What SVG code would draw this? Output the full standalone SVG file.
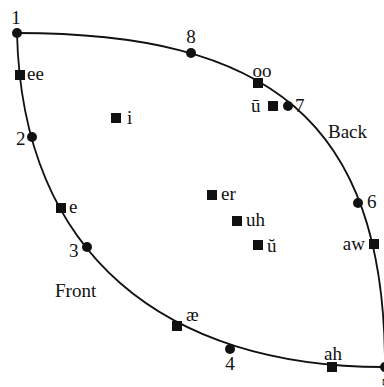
<svg xmlns="http://www.w3.org/2000/svg" width="384" height="387" viewBox="0 0 384 387">
<style>
text{font-family:"Liberation Serif","Times New Roman",serif;font-size:19px;fill:#111}
.c{fill:#111}
.s{fill:#111}
.m{text-anchor:middle}
.e{text-anchor:end}
.curve{fill:none;stroke:#111;stroke-width:1.8}
</style>
<rect width="384" height="387" fill="#fff"/>
<g id="connectors">
<path class="curve" d="M17,33 C265,33 385,117 385,367"/>
<path class="curve" d="M17,33 C22,255 165,367 385,367"/>
</g>
<g id="p1"><circle class="c" cx="17" cy="33" r="5"/><text class="m" x="16" y="24">1</text></g>
<g id="ee"><rect class="s" x="15" y="70" width="10" height="10"/><text x="27" y="80">ee</text></g>
<g id="p2"><circle class="c" cx="32" cy="137" r="5"/><text x="16" y="145">2</text></g>
<g id="e"><rect class="s" x="56" y="203" width="10" height="10"/><text x="69" y="213">e</text></g>
<g id="p3"><circle class="c" cx="87" cy="247" r="5"/><text x="69" y="257">3</text></g>
<g id="front"><text x="55" y="297">Front</text></g>
<g id="ae"><rect class="s" x="172" y="321" width="10" height="10"/><text x="186" y="321">æ</text></g>
<g id="p4"><circle class="c" cx="230" cy="349" r="5"/><text class="m" x="230" y="370">4</text></g>
<g id="ah"><rect class="s" x="327" y="362" width="10" height="10"/><text class="m" x="333" y="360">ah</text></g>
<g id="p5"><circle class="c" cx="385" cy="367" r="5"/><text class="m" x="386" y="392">5</text></g>
<g id="aw"><rect class="s" x="369" y="239" width="10" height="10"/><text class="e" x="365" y="250">aw</text></g>
<g id="p6"><circle class="c" cx="358" cy="203" r="5"/><text x="367" y="208">6</text></g>
<g id="back"><text x="328" y="138">Back</text></g>
<g id="p7"><circle class="c" cx="288" cy="106" r="5"/><text x="295" y="112">7</text></g>
<g id="ubar"><rect class="s" x="268" y="101" width="10" height="10"/><text x="251" y="112">ū</text></g>
<g id="oo"><rect class="s" x="253" y="78" width="10" height="10"/><text class="m" x="262" y="77">oo</text></g>
<g id="p8"><circle class="c" cx="191" cy="53" r="5"/><text class="m" x="191" y="43">8</text></g>
<g id="i"><rect class="s" x="111" y="113" width="10" height="10"/><text x="127" y="124">i</text></g>
<g id="er"><rect class="s" x="207" y="190" width="10" height="10"/><text x="221" y="200">er</text></g>
<g id="uh"><rect class="s" x="232" y="216" width="10" height="10"/><text x="246" y="226">uh</text></g>
<g id="ubreve"><rect class="s" x="253" y="240" width="10" height="10"/><text x="267" y="252">ŭ</text></g>
</svg>
